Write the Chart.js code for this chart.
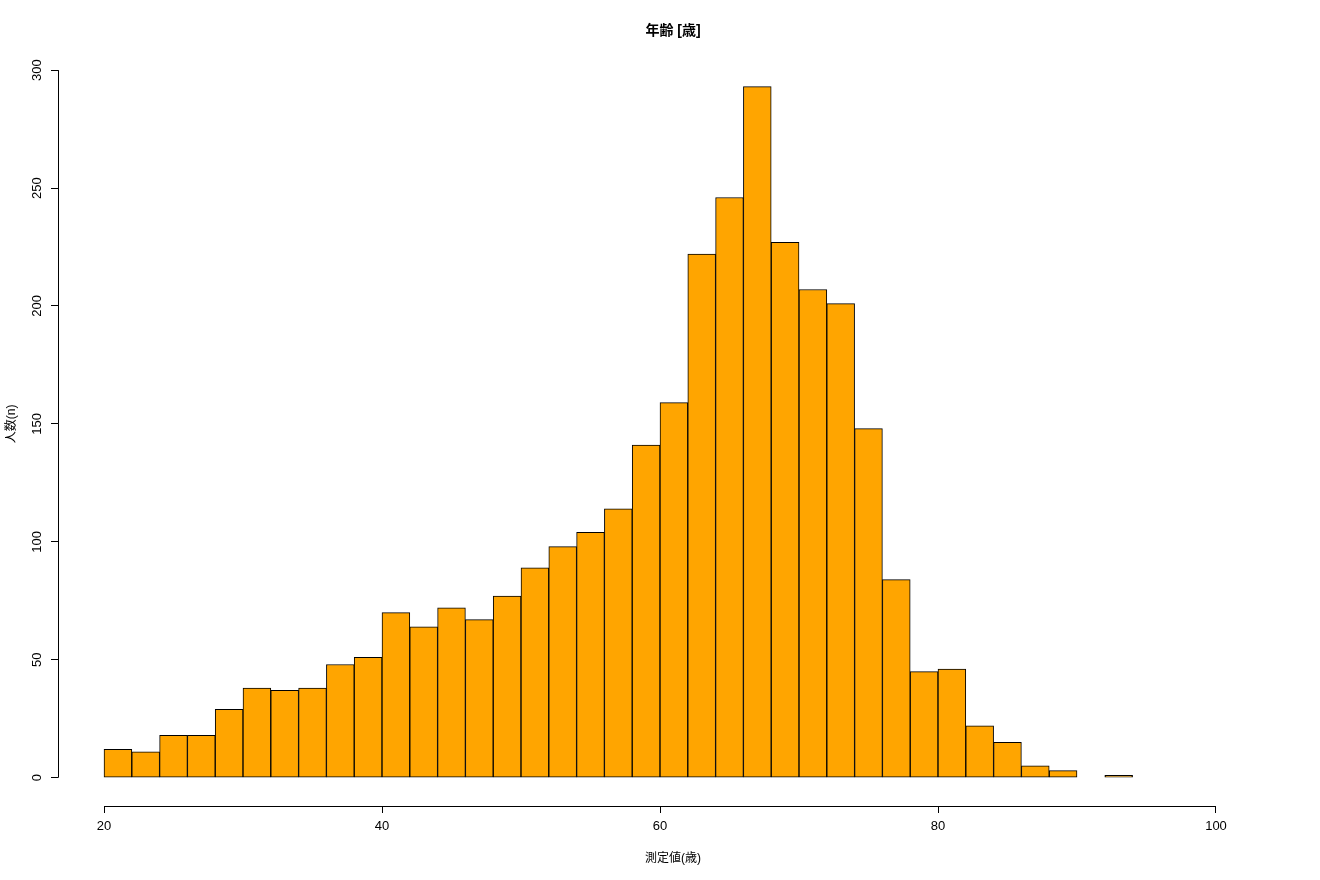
<!DOCTYPE html>
<html>
<head>
<meta charset="utf-8">
<script src="https://cdn.jsdelivr.net/npm/chart.js@4"></script>
<style>
  body { margin: 0; background: #fff; }
  canvas { display: block; }
</style>
</head>
<body>
<canvas id="chart" width="1320" height="880"></canvas>
<script>
// ヒストグラムの階級 (2歳刻み) と度数
const binStarts = [20, 22, 24, 26, 28, 30, 32, 34, 36, 38, 40, 42, 44, 46, 48, 50, 52, 54, 56,
                   58, 60, 62, 64, 66, 68, 70, 72, 74, 76, 78, 80, 82, 84, 86, 88, 90, 92];
const counts = [12, 11, 18, 18, 29, 38, 37, 38, 48, 51, 70, 64, 72, 67, 77, 89, 98, 104, 114,
                141, 159, 222, 246, 293, 227, 207, 201, 148, 84, 45, 46, 22, 15, 5, 3, 0, 1];
const binWidth = 2;
const xTicks = [20, 40, 60, 80, 100];
const yTicks = [0, 50, 100, 150, 200, 250, 300];

const FONT = "'Liberation Sans', 'Noto Sans CJK JP', sans-serif";

// R風の軸線 (目盛りの範囲だけ引く)
const axisLines = {
    id: 'axisLines',
    afterDraw(chart) {
        const ctx = chart.ctx;
        const x = chart.scales.x, y = chart.scales.y;
        ctx.save();
        ctx.strokeStyle = '#000';
        ctx.lineWidth = 1;
        ctx.beginPath();
        const yb = Math.round(chart.chartArea.bottom) + 0.5;
        ctx.moveTo(x.getPixelForValue(xTicks[0]), yb);
        ctx.lineTo(x.getPixelForValue(xTicks[xTicks.length - 1]), yb);
        const xl = Math.round(chart.chartArea.left) + 0.5;
        ctx.moveTo(xl, y.getPixelForValue(yTicks[0]));
        ctx.lineTo(xl, y.getPixelForValue(yTicks[yTicks.length - 1]));
        ctx.stroke();
        ctx.restore();
    }
};

new Chart(document.getElementById('chart').getContext('2d'), {
    type: 'bar',
    data: {
        datasets: [{
            data: binStarts.map((b, i) => ({ x: b + binWidth / 2, y: counts[i] })),
            backgroundColor: '#FFA500',
            borderColor: '#000',
            borderWidth: 1,
            borderSkipped: false,
            barPercentage: 1,
            categoryPercentage: 1
        }]
    },
    options: {
        responsive: false,
        animation: false,
        layout: { padding: { left: 0, right: 32, top: 0, bottom: 10 } },
        plugins: {
            legend: { display: false },
            tooltip: { enabled: false },
            title: {
                display: true,
                fullSize: false,
                text: '年齢 [歳]',
                color: '#000',
                font: { family: FONT, size: 14, weight: 'bold' },
                padding: { top: 23, bottom: 2 }
            }
        },
        scales: {
            x: {
                type: 'linear',
                offset: false,
                min: 16.69,
                max: 105.18,
                afterBuildTicks: s => { s.ticks = xTicks.map(v => ({ value: v })); },
                afterFit: s => { s.height = 64; },
                border: { display: false },
                grid: { offset: false, drawOnChartArea: false, drawTicks: true, tickLength: 7, color: '#000' },
                ticks: { color: '#000', font: { family: FONT, size: 13 }, padding: 6, maxRotation: 0 },
                title: {
                    display: true,
                    text: '測定値(歳)',
                    color: '#000',
                    font: { family: FONT, size: 12 },
                    padding: { top: 4, bottom: 4 }
                }
            },
            y: {
                type: 'linear',
                min: -12,
                max: 312,
                afterBuildTicks: s => { s.ticks = yTicks.map(v => ({ value: v })); },
                afterFit: s => { s.width = 58; },
                border: { display: false },
                grid: { drawOnChartArea: false, drawTicks: true, tickLength: 7, color: '#000' },
                ticks: {
                    color: '#000',
                    font: { family: FONT, size: 13 },
                    minRotation: 90,
                    maxRotation: 90,
                    crossAlign: 'center',
                    padding: 3
                },
                title: {
                    display: true,
                    text: '人数(n)',
                    color: '#000',
                    font: { family: FONT, size: 12 },
                    padding: { top: 4, bottom: 4 }
                }
            }
        }
    },
    plugins: [axisLines]
});
</script>
</body>
</html>
